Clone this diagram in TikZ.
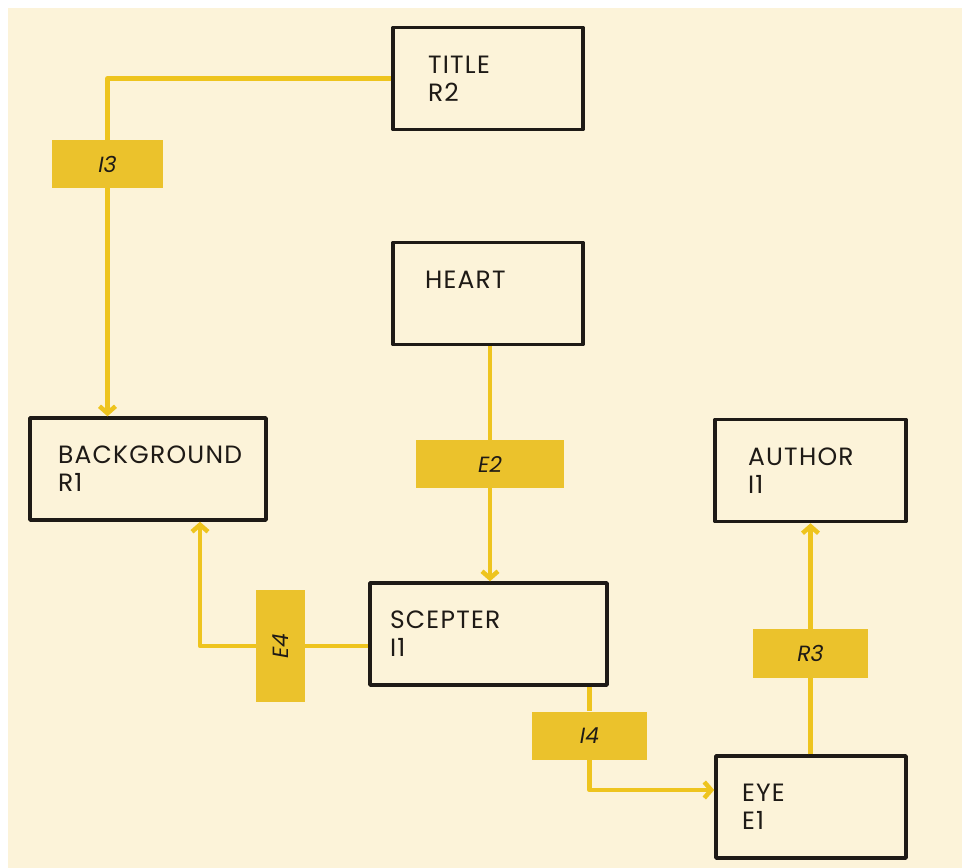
\documentclass[tikz,border=0pt]{standalone}
\usepackage{fontspec}
\setmainfont{Poppins}
\usetikzlibrary{arrows.meta}
\definecolor{cream}{HTML}{FCF3D9}
\definecolor{linkyellow}{HTML}{EEC41E}
\definecolor{tagyellow}{HTML}{EBC22C}
\definecolor{inkline}{HTML}{1E1A16}
\begin{document}
\begin{tikzpicture}[x=1pt,y=-1pt,line join=round,
		box/.style={draw=inkline,line width=3.5pt,align=left,inner ysep=0pt,minimum height=102pt,text=inkline,font=\fontsize{25}{28}\selectfont\addfontfeature{LetterSpace=5}},
		tag/.style={fill=tagyellow,inner sep=0pt,minimum height=48pt,text=inkline,font=\fontsize{22}{24}\selectfont\itshape},
		link/.style={draw=linkyellow,line width=4.5pt},
		tip/.style={-{Straight Barb[length=7pt,width=16pt]}}]
				\useasboundingbox (0,0) rectangle (962,868);
				\fill[cream] (8,8) rectangle (962,868);
				% the six boxes
				\node[box,text width=120pt,inner xsep=35pt] (title) at (488,78.5) {TITLE\\R2};
				\node[box,text width=126pt,inner xsep=32pt] (heart) at (488,293.5) {HEART\\\mbox{}};
				\node[box,text width=180pt,inner xsep=28pt] (bground) at (148,469) {BACKGROUND\\R1};
				\node[box,text width=125pt,inner xsep=33pt] (author) at (810.5,470.5) {AUTHOR\\I1};
				\node[box,text width=197pt,inner xsep=20pt] (scepter) at (488.5,634) {SCEPTER\\I1};
				\node[box,text width=138pt,inner xsep=26pt] (eye) at (811,807) {EYE\\E1};
				% the labels on the links
				\node[tag,minimum width=111pt] (tagI3) at (107.5,164) {I3};
				\node[tag,minimum width=148pt] (tagE2) at (490,464) {E2};
				\node[tag,minimum width=112pt,minimum height=49pt,rotate=90] (tagE4) at (280.5,646) {E4};
				\node[tag,minimum width=115pt] (tagI4) at (589.5,735.5) {I4};
				\node[tag,minimum width=115pt,minimum height=49pt] (tagR3) at (810.5,653.5) {R3};
				% links
				\draw[link] (title.west) -| (tagI3.north);
				\draw[link,tip] (tagI3.south) -- (tagI3.south |- bground.north);
				\draw[link] (heart.south -| tagE2) -- (tagE2.north);
				\draw[link,tip] (tagE2.south) -- (tagE2.south |- scepter.north);
				\draw[link] (scepter.west |- tagE4) -- (tagE4.south);
				\draw[link,tip] (tagE4.north) -| ([xshift=52pt]bground.south);
				\draw[link] (scepter.south -| tagI4) -- (tagI4.north);
				\draw[link,tip] (tagI4.south) |- ([yshift=17pt]eye.west);
				\draw[link] (eye.north -| tagR3) -- (tagR3.south);
				\draw[link,tip] (tagR3.north) -- (tagR3.north |- author.south);
		\end{tikzpicture}
\end{document}
